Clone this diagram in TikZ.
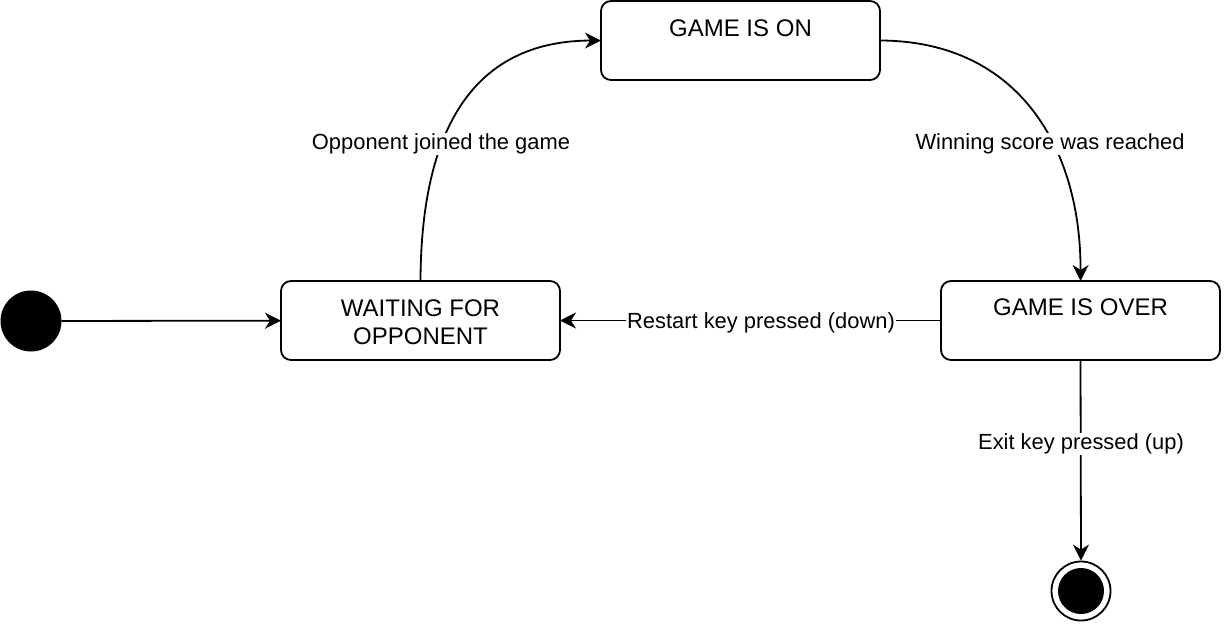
\documentclass[tikz,border=0pt]{standalone}
\usepackage{fontspec}
\setmainfont{Liberation Sans}
\usetikzlibrary{arrows.meta}
\begin{document}
\begin{tikzpicture}[x=1pt,y=-1pt,
  state/.style={draw, line width=1.8pt, rounded corners=10pt, minimum width=279pt, minimum height=79pt, inner sep=0pt, outer sep=0pt},
  lbl/.style={fill=white, inner sep=1pt, font=\fontsize{21.9}{26}\selectfont},
  stxt/.style={font=\fontsize{24}{28}\selectfont, align=center, inner sep=0pt},
  conn/.style={line width=1.8pt, -{Stealth[length=16pt,width=16pt,inset=5pt]}}]
\useasboundingbox (0,0) rectangle (1224,624);

\node[state] (wait) at (420.5,320.5) {};
\node[state] (on) at (740.5,40.5) {};
\node[state] (over) at (1080.5,320.5) {};

\node[stxt] (waittxt) at (420.5,322) {WAITING FOR\\OPPONENT};
\node[stxt] (ontxt) at (740.5,28) {GAME IS ON};
\node[stxt] (overtxt) at (1080.5,307) {GAME IS OVER};

\node[circle, fill=black, minimum size=61pt, inner sep=0pt, outer sep=0pt] (init) at (31,321) {};
\node[circle, draw, line width=1.8pt, minimum size=59pt, inner sep=0pt, outer sep=0.9pt] (fin) at (1081,591) {};
\node[circle, fill=black, minimum size=46pt, inner sep=0pt] (fincore) at (fin) {};

\draw[conn] (init) -- (wait);
\draw[conn] (wait.north) .. controls (421,150) and (460,41) .. (on.west);
\draw[conn] (on.east) .. controls (1020,41) and (1081,150) .. (over.north);
\draw[conn] (over.west) -- (wait.east);
\draw[conn] (over.south) -- (fin.north);

\node[lbl] (l1) at (441,144) {Opponent joined the game};
\node[lbl] (l2) at (1050,144) {Winning score was reached};
\node[lbl] (l3) at (761,323) {Restart key pressed (down)};
\node[lbl] (l4) at (1081,444) {Exit key pressed (up)};
\end{tikzpicture}
\end{document}
